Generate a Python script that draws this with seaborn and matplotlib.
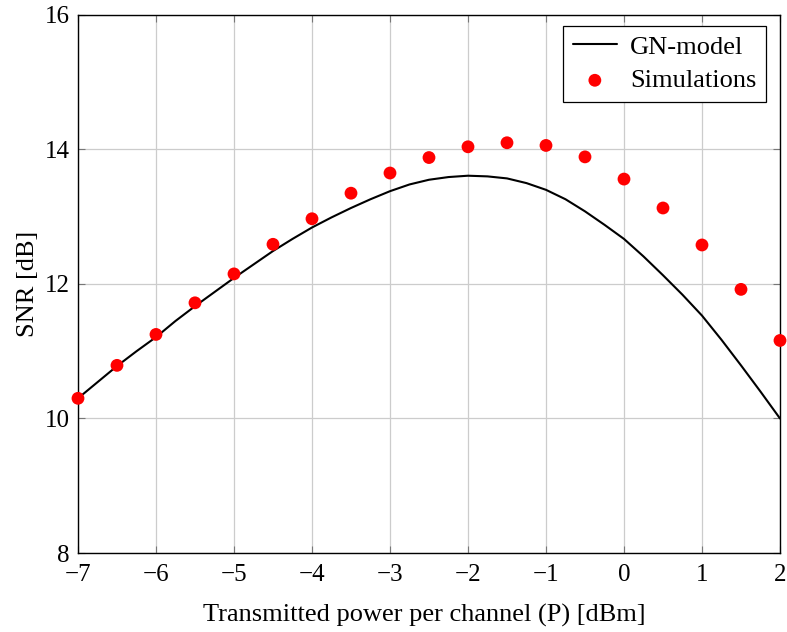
import matplotlib
matplotlib.use("Agg")
import matplotlib.pyplot as plt
import seaborn as sns
import pandas as pd

gn_power_dbm = [-7, -6.75, -6.5, -6.25, -6, -5.75, -5.5, -5.25, -5, -4.75, -4.5,
                -4.25, -4, -3.75, -3.5, -3.25, -3, -2.75, -2.5, -2.25, -2,
                -1.75, -1.5, -1.25, -1, -0.75, -0.5, -0.25, 0, 0.25, 0.5,
                0.75, 1, 1.25, 1.5, 1.75, 2]
gn_model_snr = [10.30, 10.54, 10.78, 11.00, 11.21, 11.45, 11.67, 11.88, 12.09, 12.29, 12.49,
                12.67, 12.84, 12.99, 13.13, 13.26, 13.38, 13.48, 13.55, 13.59, 13.61,
                13.60, 13.57, 13.50, 13.40, 13.26, 13.08, 12.88, 12.67, 12.41, 12.13,
                11.84, 11.53, 11.17, 10.79, 10.40, 10.00]
sim_power_dbm = [-7, -6.5, -6, -5.5, -5, -4.5, -4, -3.5, -3, -2.5, -2,
                 -1.5, -1, -0.5, 0, 0.5, 1, 1.5, 2]
sim_snr = [10.30, 10.79, 11.25, 11.72, 12.15, 12.59, 12.97, 13.35, 13.65,
           13.88, 14.04, 14.10, 14.06, 13.89, 13.56, 13.13, 12.58, 11.92, 11.16]
x_ticks = [-7, -6, -5, -4, -3, -2, -1, 0, 1, 2]
y_ticks = [8, 10, 12, 14, 16]

sns.set_style("whitegrid")
plt.rcParams['font.family'] = ['Liberation Serif', 'DejaVu Serif']
plt.rcParams['text.color'] = 'black'
plt.rcParams['axes.labelcolor'] = 'black'
plt.rcParams['xtick.color'] = 'black'
plt.rcParams['ytick.color'] = 'black'

gn_df = pd.DataFrame({"P": gn_power_dbm, "SNR": gn_model_snr})
sim_df = pd.DataFrame({"P": sim_power_dbm, "SNR": sim_snr})

fig = plt.figure(figsize=(7.87, 6.32), dpi=100)
ax = fig.add_axes([0.0991, 0.125, 0.892, 0.8513])

sns.lineplot(data=gn_df, x="P", y="SNR", ax=ax, color="black", linewidth=1.5,
             label="GN-model", zorder=3)
sns.scatterplot(data=sim_df, x="P", y="SNR", ax=ax, color="red", s=85,
                edgecolor="none", label="Simulations", zorder=4, clip_on=False)

ax.set_xlim(-7, 2)
ax.set_ylim(8, 16)
ax.set_xticks(x_ticks)
ax.set_yticks(y_ticks)
ax.set_xticklabels([("\u2212" + str(-t)) if t < 0 else str(t) for t in x_ticks])
ax.grid(True, color="#cccccc", linewidth=0.9)
for s in ax.spines.values():
    s.set_color("black")
    s.set_linewidth(1.0)
ax.tick_params(axis="both", direction="in", length=5, width=0.8, color="#777777",
               labelcolor="black", top=True, right=True, bottom=True, left=True,
               labelsize=18)
ax.tick_params(axis="x", pad=8)
ax.tick_params(axis="y", pad=6)
ax.set_xlabel("Transmitted power per channel (P) [dBm]", fontsize=19)
ax.set_ylabel("SNR [dB]", fontsize=19, labelpad=4)
ax.xaxis.set_label_coords(0.4936, -0.095)
ax.xaxis.label.set_va("top")

leg = ax.legend(loc="upper right", fontsize=19, frameon=True, fancybox=False,
                edgecolor="black", framealpha=1, borderpad=0.36,
                borderaxespad=0.0, handlelength=1.67, handletextpad=0.5,
                labelspacing=0.38, bbox_to_anchor=(0.980, 0.980))
leg.get_frame().set_linewidth(0.9)

fig.savefig("out.png", dpi=100)
